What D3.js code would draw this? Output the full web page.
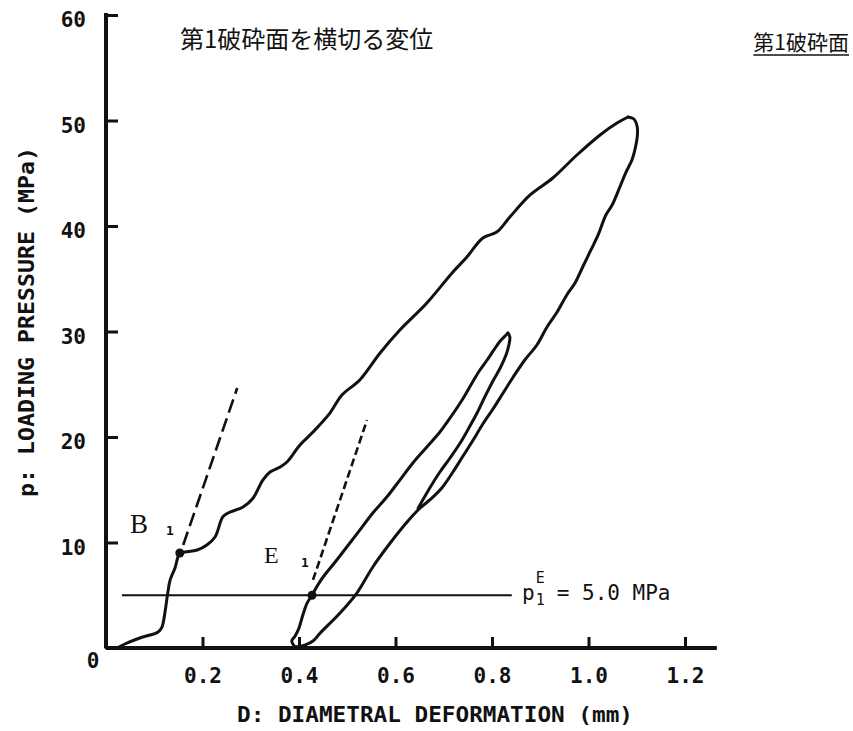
<!DOCTYPE html>
<html>
<head>
<meta charset="utf-8">
<script src="https://cdn.jsdelivr.net/npm/d3@7/dist/d3.min.js"></script>
<style>
  body { margin: 0; background: #fff; }
  svg { display: block; }
</style>
</head>
<body>
<svg id="chart" width="853" height="731"></svg>
<script>
// ---- data (D in mm, p in MPa) ----
const xTickValues = [0.2, 0.4, 0.6, 0.8, 1.0, 1.2];
const xTickLabels = ["0.2", "0.4", "0.6", "0.8", "1.0", "1.2"];
const yTickValues = [10, 20, 30, 40, 50, 60];
const yTickLabels = ["10", "20", "30", "40", "50", "60"];

// first loading branch, origin -> B1 -> peak
const loading1 = [
  [0.000, 0.00], [0.025, 0.05], [0.039, 0.38], [0.070, 0.95], [0.108, 1.52],
  [0.116, 1.99], [0.122, 3.32], [0.128, 5.21], [0.133, 6.45], [0.143, 7.58],
  [0.153, 9.00], [0.164, 9.10], [0.189, 9.29], [0.209, 9.76], [0.226, 10.52],
  [0.242, 12.42], [0.253, 12.80], [0.284, 13.36], [0.305, 14.22], [0.325, 15.92],
  [0.340, 16.68], [0.361, 17.16], [0.375, 17.63], [0.402, 19.24], [0.429, 20.47],
  [0.464, 22.27], [0.489, 23.98], [0.526, 25.40], [0.568, 27.96], [0.609, 30.14],
  [0.665, 32.70], [0.719, 35.64], [0.748, 37.06], [0.781, 38.86], [0.810, 39.43],
  [0.837, 40.85], [0.879, 42.94], [0.926, 44.55], [0.976, 46.73], [1.024, 48.63],
  [1.059, 49.76], [1.082, 50.33]
];

// first unloading branch, peak -> back to zero load
const unloading1 = [
  [1.082, 50.33], [1.094, 50.14], [1.101, 49.38], [1.101, 48.44], [1.096, 47.20],
  [1.090, 46.26], [1.078, 45.12], [1.065, 43.70], [1.049, 41.99], [1.036, 41.04],
  [1.020, 39.15], [1.003, 37.54], [0.987, 36.02], [0.972, 34.60], [0.955, 33.46],
  [0.935, 31.85], [0.914, 30.43], [0.893, 28.72], [0.868, 27.30], [0.844, 25.69],
  [0.823, 24.17], [0.802, 22.65], [0.781, 21.23], [0.761, 19.72], [0.740, 18.20],
  [0.719, 16.68], [0.696, 15.17], [0.671, 14.03], [0.651, 13.27], [0.624, 11.94],
  [0.589, 9.95], [0.553, 7.68], [0.520, 5.21], [0.485, 3.32], [0.444, 1.42],
  [0.429, 0.66], [0.412, 0.28], [0.392, 0.09]
];

// reloading branch through E1 up to the second turning point
const reloading2 = [
  [0.392, 0.09], [0.385, 0.66], [0.392, 1.14], [0.400, 1.90], [0.408, 3.13],
  [0.417, 4.27], [0.427, 5.00], [0.439, 5.97], [0.450, 6.73], [0.475, 8.15],
  [0.499, 9.57], [0.526, 11.18], [0.553, 12.80], [0.582, 14.31], [0.609, 15.92],
  [0.636, 17.54], [0.665, 19.05], [0.692, 20.47], [0.713, 21.80], [0.738, 23.51],
  [0.761, 25.31], [0.775, 26.35], [0.790, 27.30], [0.804, 28.25], [0.817, 29.10],
  [0.827, 29.57], [0.833, 29.86]
];

// second unloading branch, rejoining the first unloading branch
const unloading2 = [
  [0.833, 29.86], [0.837, 29.48], [0.835, 28.72], [0.829, 27.77], [0.817, 26.54],
  [0.802, 25.31], [0.785, 23.79], [0.769, 22.27], [0.752, 20.85], [0.734, 19.43],
  [0.713, 18.01], [0.692, 16.68], [0.671, 15.17], [0.653, 13.74], [0.647, 13.27]
];

// tangent lines at B1 and E1
const tangentB1 = [[0.160, 9.76], [0.272, 24.64]];
const tangentE1 = [[0.429, 6.45], [0.541, 21.61]];

// marked points
const pointB1 = [0.153, 9.00];
const pointE1 = [0.427, 5.00];

// reference load level p1E
const p1E = 5.0;
const p1ELineRange = [0.033, 0.841];

// axis extents
const xAxisEnd = 1.266;
const yAxisEnd = 60.2;

// ---- drawing ----
const svg = d3.select("#chart");
const x = d3.scaleLinear().domain([0, 1.2]).range([106, 685]);
const y = d3.scaleLinear().domain([0, 60]).range([648, 15]);

const mono = "'DejaVu Sans Mono', 'Liberation Mono', monospace";
const serif = "'Liberation Serif', 'DejaVu Serif', serif";
const cjk = "'Noto Sans CJK JP', sans-serif";
const ink = "#111";

const line = d3.line()
  .x(d => x(d[0]))
  .y(d => y(d[1]))
  .curve(d3.curveCatmullRom.alpha(0.5));
const straight = d3.line().x(d => x(d[0])).y(d => y(d[1]));

// x axis
const xAxis = d3.axisBottom(x)
  .tickValues(xTickValues)
  .tickFormat((d, i) => xTickLabels[i])
  .tickSize(-11)
  .tickPadding(20);
const gx = svg.append("g").attr("transform", `translate(0,${y(0)})`).call(xAxis);
gx.select(".domain").remove();
gx.selectAll(".tick line").attr("stroke", ink).attr("stroke-width", 3);
gx.selectAll(".tick text")
  .attr("font-family", mono).attr("font-size", 21).attr("font-weight", "bold")
  .attr("fill", ink);

// y axis
const yAxis = d3.axisLeft(y)
  .tickValues(yTickValues)
  .tickFormat((d, i) => yTickLabels[i])
  .tickSize(-12)
  .tickPadding(20);
const gy = svg.append("g").attr("transform", `translate(${x(0)},0)`).call(yAxis);
gy.select(".domain").remove();
gy.selectAll(".tick line").attr("stroke", ink).attr("stroke-width", 3);
gy.selectAll(".tick text")
  .attr("font-family", mono).attr("font-size", 21).attr("font-weight", "bold")
  .attr("fill", ink).attr("dy", "0.55em");

// axis lines
svg.append("line")
  .attr("x1", x(0)).attr("x2", x(xAxisEnd))
  .attr("y1", y(0)).attr("y2", y(0))
  .attr("stroke", ink).attr("stroke-width", 4);
svg.append("line")
  .attr("x1", x(0)).attr("x2", x(0))
  .attr("y1", y(0)).attr("y2", y(yAxisEnd))
  .attr("stroke", ink).attr("stroke-width", 4);

// origin label
svg.append("text")
  .attr("x", x(0) - 13).attr("y", y(0) + 20)
  .attr("text-anchor", "middle")
  .attr("font-family", mono).attr("font-size", 21).attr("font-weight", "bold")
  .attr("fill", ink).text("0");

// axis titles
svg.append("text")
  .attr("x", 237).attr("y", 722)
  .attr("textLength", 396).attr("lengthAdjust", "spacingAndGlyphs")
  .attr("font-family", mono).attr("font-size", 21).attr("font-weight", "bold")
  .attr("fill", ink).text("D: DIAMETRAL DEFORMATION (mm)");
svg.append("text")
  .attr("transform", "translate(34,497) rotate(-90)")
  .attr("textLength", 350).attr("lengthAdjust", "spacingAndGlyphs")
  .attr("font-family", mono).attr("font-size", 21).attr("font-weight", "bold")
  .attr("fill", ink).text("p: LOADING PRESSURE (MPa)");

// p1E reference line
svg.append("path")
  .attr("d", straight(p1ELineRange.map(v => [v, p1E])))
  .attr("fill", "none").attr("stroke", ink).attr("stroke-width", 2);

// tangents
svg.append("path").attr("d", straight(tangentB1))
  .attr("fill", "none").attr("stroke", ink).attr("stroke-width", 2.6)
  .attr("stroke-dasharray", "14,6");
svg.append("path").attr("d", straight(tangentE1))
  .attr("fill", "none").attr("stroke", ink).attr("stroke-width", 2.6)
  .attr("stroke-dasharray", "8,4");

// load-deformation curves
[loading1, unloading1, reloading2, unloading2].forEach(series => {
  svg.append("path").attr("d", line(series))
    .attr("fill", "none").attr("stroke", ink)
    .attr("stroke-width", 3).attr("stroke-linejoin", "round").attr("stroke-linecap", "round");
});

// points
[pointB1, pointE1].forEach(p => {
  svg.append("circle").attr("cx", x(p[0])).attr("cy", y(p[1])).attr("r", 4.5).attr("fill", ink);
});

// point labels
svg.append("text").attr("x", 130).attr("y", 533)
  .attr("font-family", serif).attr("font-size", 27).attr("fill", ink).text("B");
svg.append("text").attr("x", 166).attr("y", 535)
  .attr("font-family", mono).attr("font-size", 13).attr("font-weight", "bold").attr("fill", ink).text("1");
svg.append("text").attr("x", 264).attr("y", 563)
  .attr("font-family", serif).attr("font-size", 24).attr("fill", ink).text("E");
svg.append("text").attr("x", 301).attr("y", 567)
  .attr("font-family", mono).attr("font-size", 13).attr("font-weight", "bold").attr("fill", ink).text("1");

// p1E annotation
const pl = svg.append("text").attr("x", 522).attr("y", 600)
  .attr("font-family", mono).attr("font-size", 21).attr("fill", ink);
pl.append("tspan").text("p");
pl.append("tspan").attr("font-size", 15).attr("dx", 1).attr("dy", -17).text("E");
pl.append("tspan").attr("font-size", 15).attr("dx", -9).attr("dy", 22).text("1");
pl.append("tspan").attr("dx", 12).attr("dy", -5).text("= 5.0 MPa");

// headings
svg.append("text").attr("x", 180).attr("y", 48)
  .attr("font-family", cjk).attr("font-size", 24)
  .attr("fill", ink).text("第1破砕面を横切る変位");
const sub = svg.append("text").attr("x", 849).attr("y", 50)
  .attr("text-anchor", "end")
  .attr("font-family", cjk).attr("font-size", 21)
  .attr("fill", ink).text("第1破砕面");
const bb = sub.node().getBBox();
svg.append("line").attr("x1", bb.x).attr("x2", bb.x + bb.width).attr("y1", 55).attr("y2", 55)
  .attr("stroke", ink).attr("stroke-width", 1.5);
</script>
</body>
</html>
